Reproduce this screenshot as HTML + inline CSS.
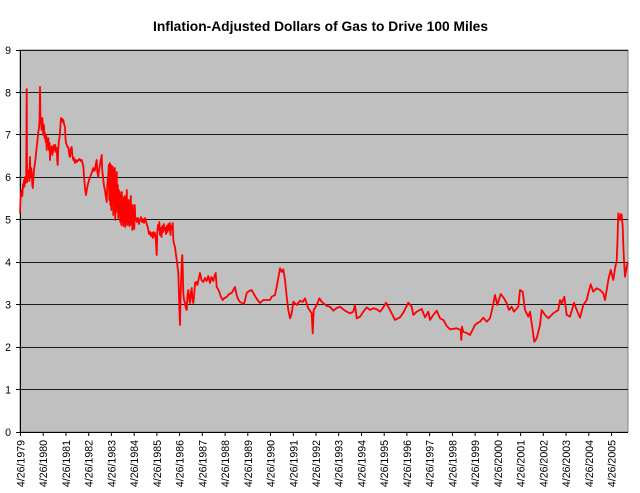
<!DOCTYPE html>
<html><head><meta charset="utf-8"><style>
html,body{margin:0;padding:0;background:#fff;}
svg{display:block;font-family:"Liberation Sans",Arial,sans-serif;}
</style></head><body>
<svg width="640" height="493" viewBox="0 0 640 493" xmlns="http://www.w3.org/2000/svg">
<rect x="0" y="0" width="640" height="493" fill="#fff"/>
<text x="320.5" y="31" font-size="13.8" font-weight="bold" text-anchor="middle" fill="#000">Inflation-Adjusted Dollars of Gas to Drive 100 Miles</text>
<rect x="20" y="50" width="608" height="382" fill="#C0C0C0" stroke="#808080" stroke-width="1"/>
<g stroke="#1a1a1a" stroke-width="1">
<line x1="20" y1="50.5" x2="628" y2="50.5"/>
<line x1="20" y1="92.5" x2="628" y2="92.5"/>
<line x1="20" y1="134.5" x2="628" y2="134.5"/>
<line x1="20" y1="177.5" x2="628" y2="177.5"/>
<line x1="20" y1="219.5" x2="628" y2="219.5"/>
<line x1="20" y1="262.5" x2="628" y2="262.5"/>
<line x1="20" y1="304.5" x2="628" y2="304.5"/>
<line x1="20" y1="347.5" x2="628" y2="347.5"/>
<line x1="20" y1="389.5" x2="628" y2="389.5"/>
</g>
<g stroke="#000" stroke-width="1">
<line x1="20.5" y1="50" x2="20.5" y2="432"/>
<line x1="20" y1="432.5" x2="628" y2="432.5"/>
<line x1="16" y1="50.5" x2="20" y2="50.5"/>
<line x1="16" y1="92.5" x2="20" y2="92.5"/>
<line x1="16" y1="134.5" x2="20" y2="134.5"/>
<line x1="16" y1="177.5" x2="20" y2="177.5"/>
<line x1="16" y1="219.5" x2="20" y2="219.5"/>
<line x1="16" y1="262.5" x2="20" y2="262.5"/>
<line x1="16" y1="304.5" x2="20" y2="304.5"/>
<line x1="16" y1="347.5" x2="20" y2="347.5"/>
<line x1="16" y1="389.5" x2="20" y2="389.5"/>
<line x1="16" y1="432.5" x2="20" y2="432.5"/>
</g>
<g font-size="10.6" text-anchor="end" fill="#000">
<text x="11" y="54">9</text>
<text x="11" y="96.3">8</text>
<text x="11" y="138.7">7</text>
<text x="11" y="181.2">6</text>
<text x="11" y="223.6">5</text>
<text x="11" y="266">4</text>
<text x="11" y="308.5">3</text>
<text x="11" y="350.9">2</text>
<text x="11" y="393.4">1</text>
<text x="11" y="435.8">0</text>
</g>
<g id="xt" stroke="#000" stroke-width="1"></g>
<g id="xl" font-size="10.6" text-anchor="end" fill="#000"></g>
<polyline fill="none" stroke="#FF0000" stroke-width="1.8" stroke-linejoin="round" points="20,213 20.5,200 21.2,192 21.7,190 22.3,196 23,184 23.5,188 24,180 24.6,186 25,177 25.6,183 26.2,176 26.7,89 27.1,182 27.7,172 28.3,178 28.9,170 29.4,181 30,157 30.5,176 31.2,168 31.7,172 32.3,185 32.8,188 33.3,180 34,170 35,163 35.8,156 36.7,147 37.5,140 38.3,132 39,128 39.5,120 40,87 40.5,118 41,123 41.7,130 42.3,118 43,128 43.3,135 44,125 44.5,138 45,133 45.7,142 46.3,136 46.7,150 47.3,140 48,146 48.3,138 49,150 49.5,143 50,160 50.5,148 51.2,152 51.7,146 52.3,155 53,148 53.3,152 54,145 54.7,150 55.3,145 56,152 56.7,148 57.2,160 57.7,165 58.2,150 59,140 59.5,138 60,132 60.5,125 61,118 61.7,121 62.3,119 63,122 63.3,120 64,124 64.6,126 65,127 65.5,138 66,143 66.8,145 67.5,147 68.3,147 69,152 69.5,156 70,157 70.5,150 71.2,148 71.7,147 72.3,155 73,158 73.3,160 74,158 75,163 76,160 77,162 78.3,160 79.5,159 80.7,161 81.7,160 82.5,163 83.3,166 84.3,180 85.2,190 86,195 86.8,190 87.7,185 88.8,181 90,177 91,175 92.2,171 93.3,168 94,171 95,170 95.8,164 96.7,160 97.3,172 98.3,177 99,170 100,165 100.7,160 101.3,158 101.7,155 102.2,170 102.8,175 103.3,180 104,186 105,190 105.7,196 106.2,198 106.7,202 107.2,188 107.7,180 108.3,175 108.8,165 109.3,200 109.8,163 110.3,205 110.8,165 111.3,210 111.8,166 112.3,190 112.8,167 113.3,215 113.8,170 114.3,200 114.8,168 115.3,220 115.8,175 116.3,205 116.8,172 117.3,212 117.8,185 118.3,218 118.8,190 119.3,205 119.8,192 120.3,222 120.8,195 121.3,225 121.8,192 122.3,215 122.8,197 123.3,226 123.8,200 124.3,222 124.8,196 125.3,227 125.8,203 126.3,218 126.8,190 127.3,225 127.8,205 128.3,223 128.8,200 129.3,226 129.8,210 130.3,225 130.8,196 131.3,222 131.8,210 132.3,230 132.8,205 133.3,228 133.8,215 134.3,229 134.8,205 135.3,220 136,218 137,222 138,218 139,224 140,220 141,217 142,222 143,219 144,223 145,218 146,221 147,225 148,228 149,234 150,232 151,236 152,233 152.8,238 153.5,232 154.2,236 155,233 155.8,240 156.7,255 157.3,232 158,225 158.7,230 159.3,222 160,235 160.8,228 161.5,237 162.2,226 163,232 163.8,224 164.5,230 165.3,228 166,234 166.8,226 167.5,232 168.3,224 169,230 169.8,223 170.5,235 171.2,226 172,228 172.7,223 173.3,240 174,244 175,247 176,255 177,262 178.3,273 179,295 179.6,315 180,325 180.5,300 181,282 181.5,270 182,258 182.3,255 182.8,270 183.3,293 184,300 185,303 185.8,308 186.7,310 187.5,295 188.3,290 189,298 190,303 190.8,293 191.7,288 192.5,300 193.3,303 194.2,295 195,283 196.2,282 197.3,285 198.5,280 200,273 201.5,280 203.3,282 205,278 206.7,281 208.3,276 210,283 211.5,277 213.3,281 214.5,276 215.7,273 216.7,287 218,289 219.3,292 221,297 222.7,300 224.5,298 226.7,297 229,294 231.7,293 233.3,290 235,287 236,292 236.7,295 238,299 240,302 242,303 244,304 245.3,299 246.7,293 249,291 251.7,290 253.3,293 255,296 257.5,300 260,303 263.3,300 266.7,300 270,300 271.7,296.7 275,295 276.7,286.7 278.3,278 280,268.3 281.7,272 283.3,269.3 285,280 286.7,296.7 288.3,310 290,318.3 291.7,313.3 293.3,301.7 296.7,305 300,300.7 302.7,302 305,298.3 308.3,308.3 311.7,313.3 312.7,333.3 313.7,310 316.7,305 319.3,298.3 321.7,301.7 326.7,306 330,306.7 333.3,310.7 336.7,308 340,306.7 345,310.7 350,313.3 353.3,311.7 355,305 356.7,318.3 360,316.7 363.3,311.7 366.7,307.3 370,310 373.3,308.3 376.7,309.3 380,311.7 382.7,308.3 386,302.7 390,310 395,320 400,317.3 403.3,312.7 408.3,302.7 411.7,306.7 413.3,315 416.7,311.7 421.7,309 425,317.3 428.3,311.7 430,320 433.3,315 436.7,310.7 440,318.3 443.3,320 446.7,326 450,329.3 456.7,328.3 460.7,330 461.3,340 462,326.7 463.3,331.7 466.7,333 470,335 472.5,330 475,325 477.5,323 480,321.7 483.3,317.7 486.7,321.7 490,318.3 492.7,306.7 495,295 497.3,305 500.7,294 504,298.3 506.7,303.3 509,310 511.7,306.7 514,311.7 518.3,306.7 520,290 522.7,291.7 525,310 528.3,316.7 530,311.7 531.7,323.3 534.3,341.7 536.7,338.3 540,325 541.7,310 545,315 548.3,318.3 553.3,313.3 558.3,310 560,300 561.7,303.3 564.3,296.7 566.7,315 570,316.7 574,302.7 576.7,310 580,317.7 583.3,305 586.7,300 588.3,293.3 590.7,284.3 593.3,291.7 596.7,288.3 600,290 603.3,293.3 605,300 606.7,290 608.3,280 610.7,270 613.3,280 615,268.3 616.7,260.7 617.5,240 618.3,213.3 619,218 620,220 620.8,214 621.7,215 622.7,226.7 623.3,245 624,260 625,276.7 626.7,266.7 628,262"/>
<g stroke="#000" stroke-width="1">
<line x1="20.5" y1="432" x2="20.5" y2="436"/><line x1="43.2" y1="432" x2="43.2" y2="436"/><line x1="66" y1="432" x2="66" y2="436"/><line x1="88.7" y1="432" x2="88.7" y2="436"/><line x1="111.4" y1="432" x2="111.4" y2="436"/><line x1="134.2" y1="432" x2="134.2" y2="436"/><line x1="156.9" y1="432" x2="156.9" y2="436"/><line x1="179.6" y1="432" x2="179.6" y2="436"/><line x1="202.3" y1="432" x2="202.3" y2="436"/><line x1="225.1" y1="432" x2="225.1" y2="436"/><line x1="247.8" y1="432" x2="247.8" y2="436"/><line x1="270.5" y1="432" x2="270.5" y2="436"/><line x1="293.3" y1="432" x2="293.3" y2="436"/><line x1="316" y1="432" x2="316" y2="436"/><line x1="338.7" y1="432" x2="338.7" y2="436"/><line x1="361.5" y1="432" x2="361.5" y2="436"/><line x1="384.2" y1="432" x2="384.2" y2="436"/><line x1="406.9" y1="432" x2="406.9" y2="436"/><line x1="429.6" y1="432" x2="429.6" y2="436"/><line x1="452.4" y1="432" x2="452.4" y2="436"/><line x1="475.1" y1="432" x2="475.1" y2="436"/><line x1="497.8" y1="432" x2="497.8" y2="436"/><line x1="520.6" y1="432" x2="520.6" y2="436"/><line x1="543.3" y1="432" x2="543.3" y2="436"/><line x1="566" y1="432" x2="566" y2="436"/><line x1="588.8" y1="432" x2="588.8" y2="436"/><line x1="611.5" y1="432" x2="611.5" y2="436"/>
</g>
<g font-size="10.6" text-anchor="end" fill="#000">
<text transform="translate(24.5,440) rotate(-90)">4/26/1979</text>
<text transform="translate(47.2,440) rotate(-90)">4/26/1980</text>
<text transform="translate(70,440) rotate(-90)">4/26/1981</text>
<text transform="translate(92.7,440) rotate(-90)">4/26/1982</text>
<text transform="translate(115.4,440) rotate(-90)">4/26/1983</text>
<text transform="translate(138.2,440) rotate(-90)">4/26/1984</text>
<text transform="translate(160.9,440) rotate(-90)">4/26/1985</text>
<text transform="translate(183.6,440) rotate(-90)">4/26/1986</text>
<text transform="translate(206.3,440) rotate(-90)">4/26/1987</text>
<text transform="translate(229.1,440) rotate(-90)">4/26/1988</text>
<text transform="translate(251.8,440) rotate(-90)">4/26/1989</text>
<text transform="translate(274.5,440) rotate(-90)">4/26/1990</text>
<text transform="translate(297.3,440) rotate(-90)">4/26/1991</text>
<text transform="translate(320,440) rotate(-90)">4/26/1992</text>
<text transform="translate(342.7,440) rotate(-90)">4/26/1993</text>
<text transform="translate(365.5,440) rotate(-90)">4/26/1994</text>
<text transform="translate(388.2,440) rotate(-90)">4/26/1995</text>
<text transform="translate(410.9,440) rotate(-90)">4/26/1996</text>
<text transform="translate(433.6,440) rotate(-90)">4/26/1997</text>
<text transform="translate(456.4,440) rotate(-90)">4/26/1998</text>
<text transform="translate(479.1,440) rotate(-90)">4/26/1999</text>
<text transform="translate(501.8,440) rotate(-90)">4/26/2000</text>
<text transform="translate(524.6,440) rotate(-90)">4/26/2001</text>
<text transform="translate(547.3,440) rotate(-90)">4/26/2002</text>
<text transform="translate(570,440) rotate(-90)">4/26/2003</text>
<text transform="translate(592.8,440) rotate(-90)">4/26/2004</text>
<text transform="translate(615.5,440) rotate(-90)">4/26/2005</text>
</g>
</svg>
</body></html>
